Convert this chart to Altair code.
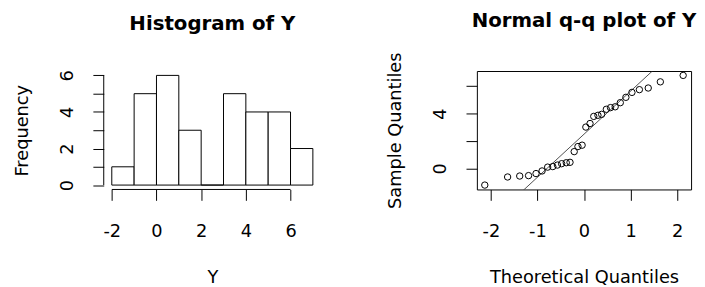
import altair as alt
import pandas as pd

# ---- Histogram data ----
bin_start = [-2, -1, 0, 1, 2, 3, 4, 5, 6]
bin_end = [-1, 0, 1, 2, 3, 4, 5, 6, 7]
freq = [1, 5, 6, 3, 0, 5, 4, 4, 2]
hist_xticks = [-2, 0, 2, 4, 6]
hist_yticks = [0, 1, 2, 3, 4, 5, 6]

# ---- Normal Q-Q data ----
theoretical = [-2.13, -1.64, -1.38, -1.19, -1.03, -0.90, -0.78, -0.67, -0.57, -0.48,
               -0.38, -0.30, -0.21, -0.13, -0.04, 0.04, 0.13, 0.21, 0.30, 0.38,
               0.48, 0.57, 0.67, 0.78, 0.90, 1.03, 1.19, 1.38, 1.64, 2.13]
sample = [-1.21, -0.62, -0.55, -0.52, -0.37, -0.18, 0.10, 0.14, 0.25, 0.35,
          0.42, 0.45, 1.23, 1.60, 1.70, 3.02, 3.28, 3.80, 3.88, 3.95,
          4.32, 4.44, 4.50, 4.80, 5.19, 5.55, 5.75, 5.87, 6.32, 6.79]
qq_line_x = [-2.3, 2.3]
qq_line_y = [-4.72, 9.72]
qq_xticks = [-2, -1, 0, 1, 2]
qq_yticks = [0, 2, 4, 6]

FONT = "DejaVu Sans"
W, H = 220, 120
MINUS_FIX = "replace(datum.label, '\u2212', '-')"

# ---------------- Histogram panel ----------------
hist_df = pd.DataFrame({"start": bin_start, "end": bin_end, "freq": freq})
hx = alt.Scale(domain=[-2.36, 7.36], nice=False, zero=False)
hy = alt.Scale(domain=[-0.24, 6.24], nice=False, zero=False)
hx_axis = alt.Axis(values=hist_xticks, title="Y", labelPadding=23, titlePadding=28,
                   labelBaseline="top", labelExpr=MINUS_FIX)
hy_axis = alt.Axis(values=hist_yticks, title="Frequency",
                   labelExpr="datum.value % 2 == 0 ? datum.label : ''",
                   labelAngle=270, labelAlign="center", labelBaseline="alphabetic",
                   labelPadding=21, titlePadding=27)

bars = alt.Chart(hist_df).mark_rect(fill="white", stroke="black", strokeWidth=1).encode(
    x=alt.X("start:Q", scale=hx, axis=hx_axis, title="Y"),
    x2="end:Q",
    y=alt.Y("freq:Q", scale=hy, axis=hy_axis, title="Frequency"),
    y2=alt.datum(0),
)

hist_xaxis_df = pd.DataFrame({"a": [hist_xticks[0]], "b": [hist_xticks[-1]]})
hist_xline = alt.Chart(hist_xaxis_df).mark_rule(color="black", strokeWidth=1).encode(
    x=alt.X("a:Q", scale=hx, axis=hx_axis, title="Y"), x2="b:Q", y=alt.value(H))
hist_yaxis_df = pd.DataFrame({"a": [hist_yticks[0]], "b": [hist_yticks[-1]]})
hist_yline = alt.Chart(hist_yaxis_df).mark_rule(color="black", strokeWidth=1).encode(
    y=alt.Y("a:Q", scale=hy, axis=hy_axis, title="Frequency"), y2="b:Q", x=alt.value(0))

hist = alt.layer(bars, hist_xline, hist_yline).properties(
    width=W, height=H,
    title=alt.TitleParams("Histogram of Y", fontSize=20, fontWeight="bold", font=FONT,
                          anchor="middle", frame="group", offset=36, color="black"),
)

# ---------------- Q-Q panel ----------------
qq_df = pd.DataFrame({"theoretical": theoretical, "sample": sample})
qx = alt.Scale(domain=[-2.3, 2.3], nice=False, zero=False)
qy = alt.Scale(domain=[-1.53, 7.11], nice=False, zero=False)
qx_axis = alt.Axis(values=qq_xticks, title="Theoretical Quantiles", labelPadding=23,
                   titlePadding=28, labelBaseline="top", labelExpr=MINUS_FIX)
qy_axis = alt.Axis(values=qq_yticks, title="Sample Quantiles",
                   labelExpr="(datum.value == 0 || datum.value == 4) ? datum.label : ''",
                   labelAngle=270, labelAlign="center", labelBaseline="alphabetic",
                   labelPadding=21, titlePadding=27)

pts = alt.Chart(qq_df).mark_point(shape="circle", filled=False, color="black",
                                   strokeWidth=1, size=42, opacity=1).encode(
    x=alt.X("theoretical:Q", scale=qx, axis=qx_axis, title="Theoretical Quantiles"),
    y=alt.Y("sample:Q", scale=qy, axis=qy_axis, title="Sample Quantiles"),
)
line_df = pd.DataFrame({"lx": qq_line_x, "ly": qq_line_y})
qline = alt.Chart(line_df).mark_line(color="#222222", strokeWidth=0.8, clip=True).encode(
    x=alt.X("lx:Q", scale=qx, axis=qx_axis, title="Theoretical Quantiles"),
    y=alt.Y("ly:Q", scale=qy, axis=qy_axis, title="Sample Quantiles"))

qq = alt.layer(qline, pts).properties(
    width=217, height=H,
    view=alt.ViewBackground(stroke="black", strokeWidth=1),
    title=alt.TitleParams("Normal q-q plot of Y", fontSize=20, fontWeight="bold", font=FONT,
                          anchor="middle", frame="group", offset=21, color="black"),
)

chart = alt.hconcat(hist, qq, spacing=66).configure_view(stroke=None).configure_axis(
    grid=False, domain=False, tickSize=11, tickColor="black", tickWidth=1,
    labelFont=FONT, titleFont=FONT, labelFontSize=18, titleFontSize=18,
    titleFontWeight="normal", labelColor="black", titleColor="black",
).properties(background="white", padding={"top": 1, "left": 5, "right": 0, "bottom": 0})

chart.save("out.html", embed_options={"renderer": "svg", "actions": False})
